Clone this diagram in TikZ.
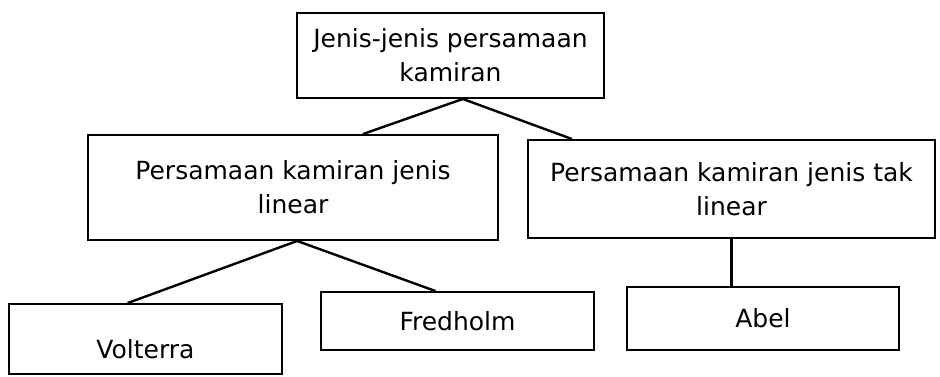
\documentclass[tikz,border=0pt]{standalone}
\usepackage{fontspec}
\setmainfont{DejaVu Sans}
\usetikzlibrary{calc}
\begin{document}
\begin{tikzpicture}[x=1pt,y=-1pt,
	kotak/.style={draw, line width=1.9pt, align=center, inner sep=0pt,
		font=\fontsize{25}{34}\selectfont},
	garis/.style={line width=2.4pt}]
	    \useasboundingbox (0,0) rectangle (940,376);
	    \node[kotak, minimum width=307pt, minimum height=85pt] (jenis) at (450.5,55.5) {Jenis-jenis persamaan\\kamiran};
	    \node[kotak, minimum width=410pt, minimum height=105pt] (lin) at (293,187.5) {Persamaan kamiran jenis\\linear};
	    \node[kotak, minimum width=407pt, minimum height=98pt] (tak) at (731.5,189) {Persamaan kamiran jenis tak\\linear};
	    \node[kotak, minimum width=273pt, minimum height=70pt, text height=38pt, text depth=0pt] (volt) at (145.5,339) {Volterra};
	    \node[kotak, minimum width=273pt, minimum height=58pt] (fred) at (457.5,321) {Fredholm};
	    \node[kotak, minimum width=272pt, minimum height=63pt] (abel) at (763,318.5) {Abel};
		
	    \draw[garis] ($(jenis.south west)!0.54!(jenis.south east)$) -- ($(lin.north west)!0.67!(lin.north east)$);
	    \draw[garis] ($(jenis.south west)!0.54!(jenis.south east)$) -- ($(tak.north west)!0.11!(tak.north east)$);
	    \draw[garis] ($(lin.south west)!0.51!(lin.south east)$) -- ($(volt.north west)!0.435!(volt.north east)$);
	    \draw[garis] ($(lin.south west)!0.51!(lin.south east)$) -- ($(fred.north west)!0.42!(fred.north east)$);
	    \draw[garis] (tak.south) -- (tak.south |- abel.north);
	\end{tikzpicture}
\end{document}
